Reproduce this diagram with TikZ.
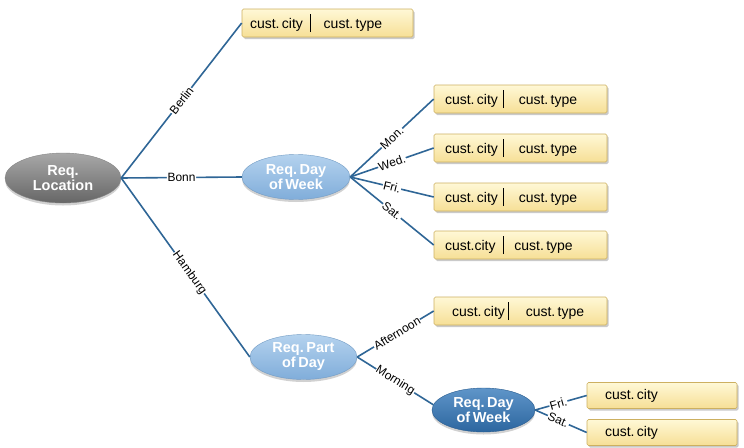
\documentclass[tikz,border=0pt]{standalone}
\usepackage{fontspec}
\setmainfont{Liberation Sans}
\usetikzlibrary{shapes.geometric,shadows}
\definecolor{edgec}{HTML}{2F6696}
\definecolor{boxt}{HTML}{FFF8D6}
\definecolor{boxb}{HTML}{F6DF96}
\definecolor{boxd}{HTML}{CDB060}
\definecolor{grayt}{HTML}{A8A8A8}
\definecolor{grayb}{HTML}{666666}
\definecolor{lbt}{HTML}{B4D2EE}
\definecolor{lbb}{HTML}{80ADDA}
\definecolor{dbt}{HTML}{5F95C9}
\definecolor{dbb}{HTML}{2C669F}
\newcommand{\cc}[5]{\hspace*{#1pt}#4\hspace{#2pt}\rule[-4pt]{0.8pt}{18pt}\hspace{#3pt}#5}
\newcommand{\tightsp}{\frenchspacing\spaceskip=0.17em plus 0.05em\relax}
\tikzset{
  edge/.style={draw=edgec, line width=1.6pt},
  lbl/.style={fill=white, inner sep=0.6pt, sloped, font=\fontsize{12}{12}\selectfont},
  boxn/.style={draw=boxd, line width=0.6pt, top color=boxt, bottom color=boxb,
    minimum height=28pt, inner xsep=0pt, inner ysep=0pt, text width=#1, align=left,
    rounded corners=1.5pt, font=\fontsize{14}{16}\selectfont,
    execute at begin node=\tightsp,
    drop shadow={shadow xshift=1.5pt, shadow yshift=-2pt, opacity=0.35, fill=black!60}},
  ellbase/.style={ellipse, inner sep=0pt, align=center, text=white,
    font=\fontsize{14.5}{15}\selectfont\bfseries,
    execute at begin node=\tightsp,
    drop shadow={shadow xshift=0pt, shadow yshift=-2.5pt, opacity=0.3, fill=black!60}},
  ellgray/.style={ellbase, top color=grayt, bottom color=grayb, draw=grayb!80, line width=0.4pt},
  elllb/.style={ellbase, top color=lbt, bottom color=lbb, draw=lbb!90!black, line width=0.4pt},
  elldb/.style={ellbase, top color=dbt, bottom color=dbb, draw=dbb!90!black, line width=0.4pt},
}
\begin{document}
\begin{tikzpicture}[x=1pt,y=-1pt]
\useasboundingbox (0,0) rectangle (744,447);
% nodes
\node[ellgray, minimum width=116pt, minimum height=50pt] (loc) at (63,178) {Req.\\Location};
\node[boxn=171pt] (berlin) at (327.5,23) {\cc{8}{7}{13}{cust. city}{cust. type}};
\node[elllb, minimum width=108pt, minimum height=45pt] (dow1) at (296,177) {Req. Day\\of Week};
\node[boxn=173pt] (mon) at (520.5,99) {\cc{11}{5}{15}{cust. city}{cust. type}};
\node[boxn=173pt] (wed) at (520.5,148) {\cc{11}{5}{15}{cust. city}{cust. type}};
\node[boxn=173pt] (fri) at (520.5,197) {\cc{11}{5}{15}{cust. city}{cust. type}};
\node[boxn=173pt] (sat) at (520.5,245) {\cc{11}{7}{11}{cust.city}{cust. type}};
\node[boxn=173pt] (aft) at (520.5,311) {\cc{18}{3}{17}{cust. city}{cust. type}};
\node[elllb, minimum width=107pt, minimum height=45pt] (pod) at (303.5,357) {Req. Part\\of Day};
\node[elldb, minimum width=103pt, minimum height=44pt] (dow2) at (483.5,410) {Req. Day\\of Week};
\node[boxn=150pt, minimum height=26pt] (bfri) at (662,395.5) {\hspace*{18pt}cust. city};
\node[boxn=150pt, minimum height=26pt] (bsat) at (662,432.5) {\hspace*{18pt}cust. city};
% edges
\draw[edge] (loc.east) -- node[lbl, pos=0.5] {Berlin} (berlin.west);
\draw[edge] (loc.east) -- node[lbl, pos=0.5] {Bonn} (dow1.west);
\draw[edge] (loc.east) -- node[lbl, pos=0.53] {Hamburg} (pod.west);
\draw[edge] (dow1.east) -- node[lbl, pos=0.5] {Mon.} (mon.west);
\draw[edge] (dow1.east) -- node[lbl, pos=0.5] {Wed.} (wed.west);
\draw[edge] (dow1.east) -- node[lbl, pos=0.5] {Fri.} (fri.west);
\draw[edge] (dow1.east) -- node[lbl, pos=0.5] {Sat.} (sat.west);
\draw[edge] (pod.east) -- node[lbl, pos=0.52] {Afternoon} (aft.west);
\draw[edge] (pod.east) -- node[lbl, pos=0.5] {Morning} (dow2.174);
\draw[edge] (dow2.east) -- node[lbl, pos=0.45] {Fri.} (bfri.west);
\draw[edge] (dow2.east) -- node[lbl, pos=0.45] {Sat.} (bsat.west);
\end{tikzpicture}
\end{document}
